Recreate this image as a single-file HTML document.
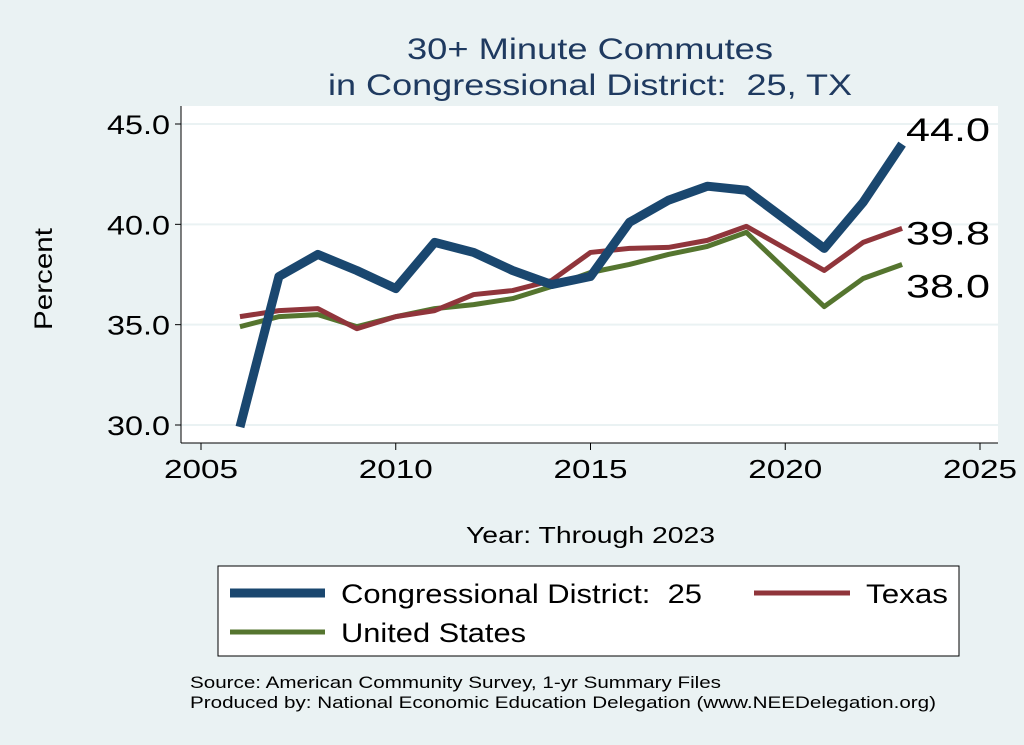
<!DOCTYPE html>
<html><head><meta charset="utf-8"><style>
body{margin:0;background:#eaf2f3;}
svg{display:block;font-family:"Liberation Sans",sans-serif;}
</style></head><body>
<svg id="c" width="1024" height="745" viewBox="0 0 1024 745">
<rect x="0" y="0" width="1024" height="745" fill="#eaf2f3"/>
<rect x="181" y="106" width="817" height="337" fill="#ffffff"/>
<text x="407" y="59" textLength="366" lengthAdjust="spacingAndGlyphs" font-size="30" fill="#1f3a60">30+ Minute Commutes</text>
<text x="328" y="95" textLength="524" lengthAdjust="spacingAndGlyphs" font-size="30" fill="#1f3a60" xml:space="preserve">in Congressional District:  25, TX</text>
<g id="grid"></g><g id="axes"></g><g id="series"></g>
<text x="52" y="279" text-anchor="middle" font-size="25" textLength="102" lengthAdjust="spacingAndGlyphs" transform="rotate(-90 52 279)">Percent</text>
<text x="466" y="543" textLength="249" lengthAdjust="spacingAndGlyphs" font-size="23">Year: Through 2023</text>
<g>
<rect x="218" y="566" width="741" height="90" fill="#fff" stroke="#000" stroke-width="1"/>
<line x1="230" y1="593" x2="325" y2="593" stroke="#1a476f" stroke-width="9"/>
<text x="341" y="603" font-size="27" textLength="361" lengthAdjust="spacingAndGlyphs" xml:space="preserve">Congressional District:  25</text>
<line x1="754" y1="593" x2="850" y2="593" stroke="#90353b" stroke-width="5"/>
<text x="866" y="603" font-size="27" textLength="82" lengthAdjust="spacingAndGlyphs">Texas</text>
<line x1="230" y1="632" x2="325" y2="632" stroke="#55752f" stroke-width="5"/>
<text x="341" y="642" font-size="27" textLength="185" lengthAdjust="spacingAndGlyphs">United States</text>
</g>
<text x="190" y="688" font-size="17" textLength="531" lengthAdjust="spacingAndGlyphs">Source: American Community Survey, 1-yr Summary Files</text>
<text x="190" y="708" font-size="17" textLength="746" lengthAdjust="spacingAndGlyphs">Produced by: National Economic Education Delegation (www.NEEDelegation.org)</text>
</svg>
<script>
const years=[2006,2007,2008,2009,2010,2011,2012,2013,2014,2015,2016,2017,2018,2019,2021,2022,2023];
const district=[29.9,37.4,38.5,37.7,36.8,39.1,38.6,37.7,37.0,37.4,40.1,41.2,41.9,41.7,38.8,41.1,44.0];
const texas=[35.4,35.7,35.8,34.8,35.4,35.7,36.5,36.7,37.2,38.6,38.8,38.85,39.2,39.9,37.7,39.1,39.8];
const us=[34.9,35.4,35.5,34.9,35.4,35.8,36.0,36.3,36.9,37.6,38.0,38.5,38.9,39.6,35.9,37.3,38.0];
const yTicks=[30,35,40,45];
const xTicks=[2005,2010,2015,2020,2025];
const NS='http://www.w3.org/2000/svg';
const xs=v=>201+(v-2005)*(980-201)/20;
const ys=v=>425-(v-30)*(425-124)/15;
function mk(t,a,p){const e=document.createElementNS(NS,t);for(const k in a)e.setAttribute(k,a[k]);p.appendChild(e);return e;}
const grid=document.getElementById('grid'),axes=document.getElementById('axes'),ser=document.getElementById('series');
mk('line',{x1:181,y1:106,x2:181,y2:443,stroke:'#000','stroke-width':1},axes);
mk('line',{x1:181,y1:443,x2:998,y2:443,stroke:'#000','stroke-width':1},axes);
yTicks.forEach(v=>{
 const g=mk('line',{x1:181,y1:ys(v),x2:998,y2:ys(v),stroke:'#eaf2f3','stroke-width':2},grid);
 
 
 mk('line',{x1:175,y1:ys(v),x2:181,y2:ys(v),stroke:'#000'},axes);
 const t=mk('text',{x:170,y:ys(v)+10,'text-anchor':'end','font-size':27,textLength:63,lengthAdjust:'spacingAndGlyphs'},axes);t.textContent=v.toFixed(1);
 
 
});
xTicks.forEach(v=>{
 mk('line',{x1:xs(v),y1:443,x2:xs(v),y2:450,stroke:'#000'},axes);
 const t=mk('text',{x:xs(v),y:478,'text-anchor':'middle','font-size':26,textLength:74,lengthAdjust:'spacingAndGlyphs'},axes);t.textContent=v;
 
 
});
function line(vals,col,w,name){
 const p=mk('polyline',{points:years.map((y,i)=>xs(y)+','+ys(vals[i])).join(' '),fill:'none',stroke:col,'stroke-width':w,'stroke-linejoin':'round'},ser);
 
 
}
line(us,'#55752f',5,'line-united-states');
line(texas,'#90353b',5,'line-texas');
line(district,'#1a476f',9,'line-district');
const last=years.length-1;
[[district,'label-district',-3],[texas,'label-texas',16],[us,'label-us',33]].forEach(([v,n,dy])=>{
 const t=mk('text',{x:906,y:ys(v[last])+dy,'font-size':32,textLength:84,lengthAdjust:'spacingAndGlyphs'},ser);t.textContent=v[last].toFixed(1);
 
 
});
</script>
</body></html>
